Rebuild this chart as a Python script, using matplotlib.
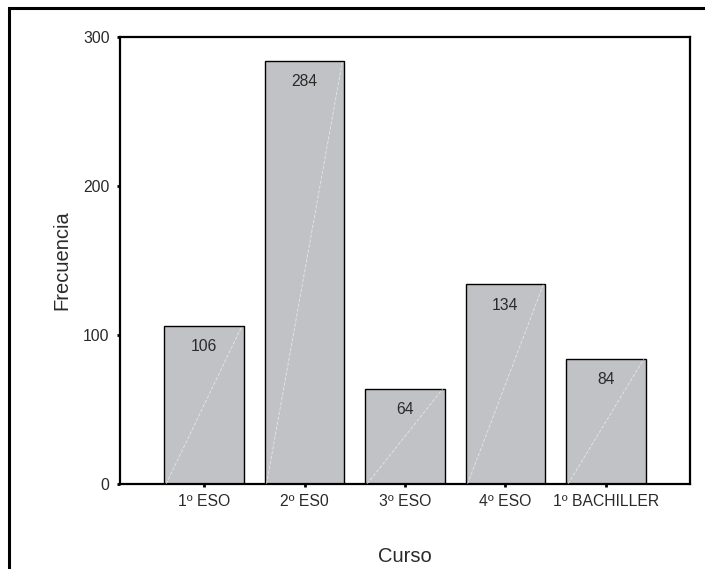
import matplotlib.pyplot as plt
from matplotlib.patches import Rectangle

plt.rcParams['font.family'] = ['Liberation Sans', 'DejaVu Sans']

cursos = ['1º ESO', '2º ES0', '3º ESO', '4º ESO', '1º BACHILLER']
frecuencias = [106, 284, 64, 134, 84]
yticks = [0, 100, 200, 300]

fig = plt.figure(figsize=(7.05, 5.69), dpi=100)
W, H = 705, 569

# outer frame (clipped on right and bottom like the original export)
fig.patches.append(Rectangle((9 / W, -0.05), 1.0, 1 - 8 / H + 0.05,
                             transform=fig.transFigure, fill=False,
                             edgecolor='black', linewidth=2.2))

ax = fig.add_axes([120 / W, 1 - 484 / H, (690 - 120) / W, (484 - 37) / H])
x = list(range(len(cursos)))
bars = ax.bar(x, frecuencias, width=0.795, color='#c1c2c6',
              edgecolor='black', linewidth=1.0, zorder=2)

# faint diagonal streak inside every bar
for b in bars:
    x0, w, h = b.get_x(), b.get_width(), b.get_height()
    ax.plot([x0 + 0.02, x0 + w - 0.02], [0, h], color='white',
            linewidth=0.6, linestyle=(0, (4, 2)), alpha=0.6, zorder=3)

for xi, v in zip(x, frecuencias):
    ax.annotate(str(v), (xi, v), xytext=(0, -15), textcoords='offset points',
                ha='center', va='center', fontsize=11.3, color='#2a2a2a',
                zorder=4)

ax.set_xlim(-0.836, len(cursos) - 1 + 0.836)
ax.set_ylim(0, 300)
ax.set_yticks(yticks)
ax.set_xticks(x)
ax.set_xticklabels(cursos)
ax.tick_params(axis='both', direction='out', length=2.5, width=2,
               labelsize=11.3, labelcolor='#2a2a2a', pad=5)

for s in ax.spines.values():
    s.set_linewidth(1.6)

ax.set_xlabel('Curso', fontsize=14.5, labelpad=27, color='#2a2a2a')
ax.set_ylabel('Frecuencia', fontsize=14.5, labelpad=8, color='#2a2a2a')

fig.savefig('out.png', dpi=100)
